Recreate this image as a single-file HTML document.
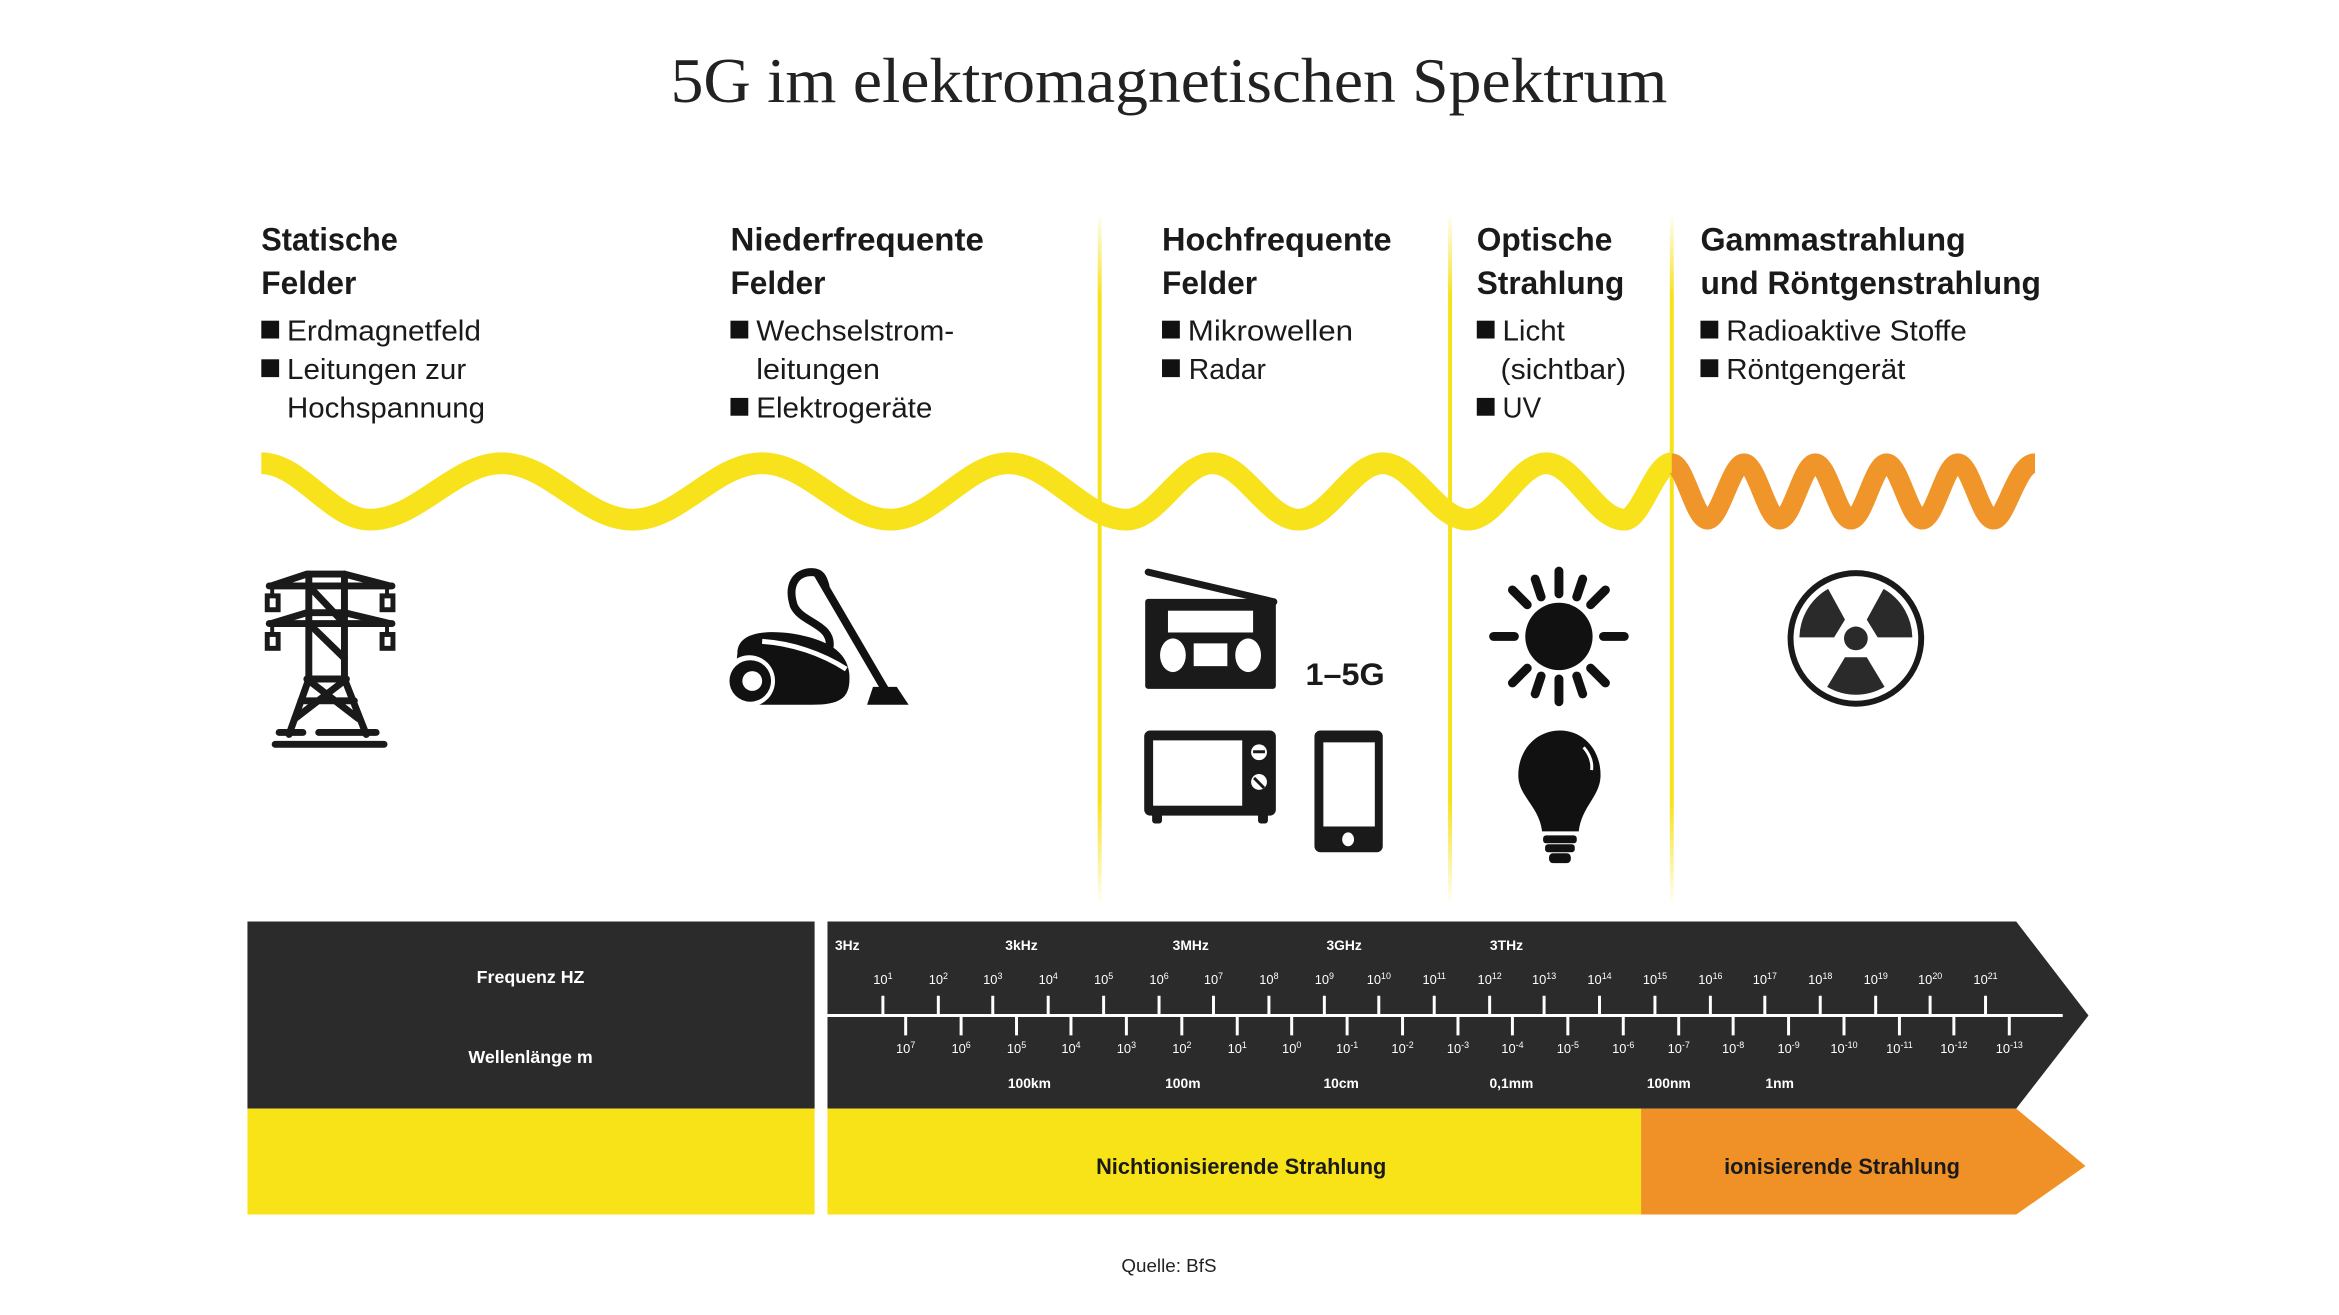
<!DOCTYPE html>
<html><head><meta charset="utf-8"><style>
html,body{margin:0;padding:0;background:#fff;}
svg{display:block;}
</style></head><body>
<svg width="2339" height="1315" viewBox="0 0 2339 1315" xmlns="http://www.w3.org/2000/svg">
<defs>
<linearGradient id="vg" x1="0" y1="0" x2="0" y2="1">
<stop offset="0" stop-color="#f6e21a" stop-opacity="0"/>
<stop offset="0.12" stop-color="#f6e21a" stop-opacity="1"/>
<stop offset="0.85" stop-color="#f6e21a" stop-opacity="1"/>
<stop offset="1" stop-color="#f6e21a" stop-opacity="0"/>
</linearGradient>
</defs>
<rect width="2339" height="1315" fill="#fff"/>
<g transform="scale(0.9898)">

<text x="1181" y="103" font-family="Liberation Serif, serif" font-size="64" fill="#222" text-anchor="middle" textLength="1007" lengthAdjust="spacingAndGlyphs">5G im elektromagnetischen Spektrum</text>

<rect x="1109" y="215" width="4" height="700" fill="url(#vg)"/>
<rect x="1463" y="215" width="4" height="700" fill="url(#vg)"/>
<rect x="1687" y="215" width="4" height="700" fill="url(#vg)"/>

<g font-family="Liberation Sans, sans-serif" font-weight="bold" font-size="33" fill="#1a1a1a">
<text x="264" y="253" textLength="138" lengthAdjust="spacingAndGlyphs">Statische</text>
<text x="264" y="297" textLength="96" lengthAdjust="spacingAndGlyphs">Felder</text>
<text x="738" y="253" textLength="256" lengthAdjust="spacingAndGlyphs">Niederfrequente</text>
<text x="738" y="297" textLength="96" lengthAdjust="spacingAndGlyphs">Felder</text>
<text x="1174" y="253" textLength="232" lengthAdjust="spacingAndGlyphs">Hochfrequente</text>
<text x="1174" y="297" textLength="96" lengthAdjust="spacingAndGlyphs">Felder</text>
<text x="1492" y="253" textLength="137" lengthAdjust="spacingAndGlyphs">Optische</text>
<text x="1492" y="297" textLength="149" lengthAdjust="spacingAndGlyphs">Strahlung</text>
<text x="1718" y="253" textLength="268" lengthAdjust="spacingAndGlyphs">Gammastrahlung</text>
<text x="1718" y="297" textLength="344" lengthAdjust="spacingAndGlyphs">und Röntgenstrahlung</text>
</g>

<g fill="#111">
<rect x="264" y="324" width="18" height="18"/><rect x="264" y="363" width="18" height="18"/>
<rect x="738" y="324" width="18" height="18"/><rect x="738" y="402" width="18" height="18"/>
<rect x="1174" y="324" width="18" height="18"/><rect x="1174" y="363" width="18" height="18"/>
<rect x="1492" y="324" width="18" height="18"/><rect x="1492" y="402" width="18" height="18"/>
<rect x="1718" y="324" width="18" height="18"/><rect x="1718" y="363" width="18" height="18"/>
</g>
<g font-family="Liberation Sans, sans-serif" font-size="29" fill="#1a1a1a">
<text x="290" y="344" textLength="196" lengthAdjust="spacingAndGlyphs">Erdmagnetfeld</text>
<text x="290" y="383" textLength="181" lengthAdjust="spacingAndGlyphs">Leitungen zur</text>
<text x="290" y="422" textLength="200" lengthAdjust="spacingAndGlyphs">Hochspannung</text>
<text x="764" y="344" textLength="200" lengthAdjust="spacingAndGlyphs">Wechselstrom-</text>
<text x="764" y="383" textLength="125" lengthAdjust="spacingAndGlyphs">leitungen</text>
<text x="764" y="422" textLength="178" lengthAdjust="spacingAndGlyphs">Elektrogeräte</text>
<text x="1200" y="344" textLength="167" lengthAdjust="spacingAndGlyphs">Mikrowellen</text>
<text x="1201" y="383" textLength="78" lengthAdjust="spacingAndGlyphs">Radar</text>
<text x="1518" y="344" textLength="63" lengthAdjust="spacingAndGlyphs">Licht</text>
<text x="1516" y="383" textLength="127" lengthAdjust="spacingAndGlyphs">(sichtbar)</text>
<text x="1518" y="422" textLength="39" lengthAdjust="spacingAndGlyphs">UV</text>
<text x="1744" y="344" textLength="243" lengthAdjust="spacingAndGlyphs">Radioaktive Stoffe</text>
<text x="1744" y="383" textLength="181" lengthAdjust="spacingAndGlyphs">Röntgengerät</text>
</g>

<path fill="none" stroke="#f7e21b" stroke-width="22" d="M264,468 C304,468 334,525 374,525 C422,525 459,468 507,468 C555,468 591,525 639,525 C687,525 722,468 770,468 C817,468 853,525 900,525 C943,525 976,468 1019,468 C1062,468 1095,525 1138,525 C1170,525 1193,468 1225,468 C1257,468 1280,525 1312,525 C1343,525 1366,468 1397,468 C1428,468 1452,525 1483,525 C1512,525 1533,468 1562,468 C1591,468 1612,525 1641,525 C1658,525 1672,468 1689,468"/>
<path fill="none" stroke="#f0952a" stroke-width="20" d="M1689,468 C1702,468 1712,525 1725,525 C1738,525 1749,468 1762,468 C1775,468 1785,525 1798,525 C1811,525 1821,468 1834,468 C1847,468 1857,525 1870,525 C1883,525 1893,468 1906,468 C1919,468 1929,525 1942,525 C1955,525 1965,468 1978,468 C1991,468 2001,525 2014,525 C2027,525 2037,468 2056,468"/>

<g stroke="#1a1a1a" stroke-width="7" fill="none" stroke-linecap="round">
<path d="M274,592 L310,580 L348,580 L394,592"/>
<path d="M272,592 L396,592"/>
<path d="M274,630 L310,619 L348,619 L394,630"/>
<path d="M272,630 L396,630"/>
<path d="M312,580 L312,686 L292,742"/>
<path d="M348,580 L348,686 L370,742"/>
<path d="M312,592 L348,630 M312,630 L348,665 M312,686 L348,686"/>
<path d="M310,686 L362,726 M350,686 L298,726 M304,708 L358,708"/>
<path d="M278,752 L388,752"/>
<path d="M282,740 L306,740 M322,740 L380,740"/>
<rect x="270" y="602" width="11" height="14" stroke-width="5"/>
<rect x="386" y="602" width="11" height="14" stroke-width="5"/>
<rect x="270" y="641" width="11" height="14" stroke-width="5"/>
<rect x="386" y="641" width="11" height="14" stroke-width="5"/>
<path d="M275,592 L275,602 M391,592 L391,602 M275,630 L275,641 M391,630 L391,641" stroke-width="4"/>
</g>

<g fill="#111">
<path d="M745,660 C745,640 770,636 800,640 C830,645 855,655 858,680 C860,705 850,712 820,712 L770,712 C750,712 740,700 745,660 Z"/>
<circle cx="757" cy="688" r="26" fill="#fff"/>
<circle cx="758" cy="688" r="21"/>
<circle cx="760" cy="688" r="10" fill="#fff"/>
<path d="M770,648 C800,650 830,660 855,676" stroke="#fff" stroke-width="5" fill="none"/>
<path d="M838,655 C842,630 810,630 802,612 C795,590 805,578 820,578 C830,578 832,585 834,592" stroke="#111" stroke-width="8" fill="none" stroke-linecap="round"/>
<path d="M826,580 L895,698" stroke="#111" stroke-width="8" stroke-linecap="round"/>
<path d="M882,694 L906,694 L918,712 L876,712 Z"/>
</g>

<g fill="#1a1a1a">
<path d="M1160,578 L1287,608" stroke="#1a1a1a" stroke-width="7" stroke-linecap="round"/>
<rect x="1157" y="605" width="132" height="91" rx="3"/>
<rect x="1180" y="617" width="86" height="22" fill="#fff"/>
<ellipse cx="1185" cy="662" rx="13" ry="17" fill="#fff"/>
<ellipse cx="1261" cy="662" rx="13" ry="17" fill="#fff"/>
<rect x="1206" y="650" width="34" height="23" fill="#fff"/>
</g>
<text x="1359" y="692" font-family="Liberation Sans, sans-serif" font-weight="bold" font-size="32" fill="#1a1a1a" text-anchor="middle" textLength="80" lengthAdjust="spacingAndGlyphs">1–5G</text>

<g fill="#1a1a1a">
<rect x="1156" y="738" width="133" height="86" rx="6"/>
<rect x="1165" y="748" width="90" height="66" fill="#fff"/>
<circle cx="1272" cy="760" r="8" fill="#fff"/>
<circle cx="1272" cy="790" r="8" fill="#fff"/>
<rect x="1266" y="758" width="12" height="3"/>
<path d="M1267,786 L1277,796" stroke="#1a1a1a" stroke-width="3"/>
<rect x="1164" y="820" width="10" height="12" rx="3"/>
<rect x="1271" y="820" width="10" height="12" rx="3"/>
</g>
<g fill="#1a1a1a">
<rect x="1328" y="738" width="69" height="123" rx="6"/>
<rect x="1337" y="750" width="52" height="85" fill="#fff"/>
<ellipse cx="1362" cy="848" rx="6" ry="7" fill="#fff"/>
</g>

<g stroke="#111" stroke-width="9" stroke-linecap="round">
<circle cx="1575" cy="643" r="34" fill="#111" stroke="none"/>
<path d="M1575,577 L1575,600 M1575,686 L1575,709 M1509,643 L1530,643 M1620,643 L1641,643 M1528,596 L1543,611 M1607,675 L1622,690 M1622,596 L1607,611 M1543,675 L1528,690 M1551,585 L1557,603 M1593,683 L1599,701 M1599,585 L1593,603 M1557,683 L1551,701"/>
</g>

<g fill="#111">
<path d="M1576,738 C1600,738 1618,758 1617,785 C1616,805 1598,815 1595,840 L1558,840 C1555,815 1535,805 1534,785 C1533,758 1552,738 1576,738 Z"/>
<rect x="1559" y="844" width="34" height="8" rx="3"/>
<rect x="1561" y="853" width="30" height="8" rx="3"/>
<rect x="1565" y="862" width="22" height="10" rx="4"/>
<path d="M1600,755 C1606,762 1609,770 1608,778" stroke="#fff" stroke-width="3" fill="none"/>
</g>

<g>
<circle cx="1875" cy="645" r="66" fill="none" stroke="#1a1a1a" stroke-width="6"/>
<path d="M1875,645 m-22,-1 L1818,644 A57,57 0 0 1 1847,595 L1864,626 Z" fill="#2a2a2a"/>
<path d="M1875,645 m22,-1 L1932,644 A57,57 0 0 0 1903,595 L1886,626 Z" fill="#2a2a2a"/>
<path d="M1864,664 L1846,694 A57,57 0 0 0 1904,694 L1886,664 Z" fill="#2a2a2a"/>
<circle cx="1875" cy="645" r="15" fill="#fff"/>
<circle cx="1875" cy="645" r="12" fill="#2a2a2a"/>
</g>

<rect x="250" y="931" width="573" height="189" fill="#2b2b2b"/>
<path d="M836,931 L2037,931 L2110,1026 L2037,1120 L836,1120 Z" fill="#2b2b2b"/>
<rect x="250" y="1120" width="573" height="107" fill="#f8e318"/>
<rect x="836" y="1120" width="822" height="107" fill="#f8e318"/>
<path d="M1658,1120 L2037,1120 L2107,1178 L2037,1227 L1658,1227 Z" fill="#ef9127"/>

<g font-family="Liberation Sans, sans-serif" fill="#fff" font-size="18" text-anchor="middle" font-weight="bold">
<text x="536" y="993">Frequenz HZ</text>
<text x="536" y="1074">Wellenlänge m</text>
</g>
<g font-family="Liberation Sans, sans-serif" fill="#1a1a1a" font-size="22" font-weight="bold" text-anchor="middle">
<text x="1254" y="1186">Nichtionisierende Strahlung</text>
<text x="1861" y="1186">ionisierende Strahlung</text>
</g>
<text x="1181" y="1285" font-family="Liberation Sans, sans-serif" font-size="19" fill="#222" text-anchor="middle">Quelle: BfS</text>

<g stroke="#fff" stroke-width="3">
<line x1="836" y1="1026" x2="2084" y2="1026"/>
<path d="M892,1006V1026 M948,1006V1026 M1003,1006V1026 M1059,1006V1026 M1115,1006V1026 M1171,1006V1026 M1226,1006V1026 M1282,1006V1026 M1338,1006V1026 M1393,1006V1026 M1449,1006V1026 M1505,1006V1026 M1560,1006V1026 M1616,1006V1026 M1672,1006V1026 M1728,1006V1026 M1783,1006V1026 M1839,1006V1026 M1895,1006V1026 M1950,1006V1026 M2006,1006V1026"/>
<path d="M915,1026V1046 M971,1026V1046 M1027,1026V1046 M1082,1026V1046 M1138,1026V1046 M1194,1026V1046 M1250,1026V1046 M1305,1026V1046 M1361,1026V1046 M1417,1026V1046 M1473,1026V1046 M1528,1026V1046 M1584,1026V1046 M1640,1026V1046 M1696,1026V1046 M1751,1026V1046 M1807,1026V1046 M1863,1026V1046 M1919,1026V1046 M1974,1026V1046 M2030,1026V1046"/>
</g>
<g font-family="Liberation Sans, sans-serif" fill="#fff" font-size="14" font-weight="bold" text-anchor="middle">
<text x="856" y="960">3Hz</text>
<text x="1032" y="960">3kHz</text>
<text x="1203" y="960">3MHz</text>
<text x="1358" y="960">3GHz</text>
<text x="1522" y="960">3THz</text>
<text x="1040" y="1099">100km</text>
<text x="1195" y="1099">100m</text>
<text x="1355" y="1099">10cm</text>
<text x="1527" y="1099">0,1mm</text>
<text x="1686" y="1099">100nm</text>
<text x="1798" y="1099">1nm</text>
</g>
<g font-family="Liberation Sans, sans-serif" fill="#fff" font-size="13" text-anchor="middle">
<text x="892" y="994">10<tspan font-size="9" dy="-5">1</tspan></text>
<text x="948" y="994">10<tspan font-size="9" dy="-5">2</tspan></text>
<text x="1003" y="994">10<tspan font-size="9" dy="-5">3</tspan></text>
<text x="1059" y="994">10<tspan font-size="9" dy="-5">4</tspan></text>
<text x="1115" y="994">10<tspan font-size="9" dy="-5">5</tspan></text>
<text x="1171" y="994">10<tspan font-size="9" dy="-5">6</tspan></text>
<text x="1226" y="994">10<tspan font-size="9" dy="-5">7</tspan></text>
<text x="1282" y="994">10<tspan font-size="9" dy="-5">8</tspan></text>
<text x="1338" y="994">10<tspan font-size="9" dy="-5">9</tspan></text>
<text x="1393" y="994">10<tspan font-size="9" dy="-5">10</tspan></text>
<text x="1449" y="994">10<tspan font-size="9" dy="-5">11</tspan></text>
<text x="1505" y="994">10<tspan font-size="9" dy="-5">12</tspan></text>
<text x="1560" y="994">10<tspan font-size="9" dy="-5">13</tspan></text>
<text x="1616" y="994">10<tspan font-size="9" dy="-5">14</tspan></text>
<text x="1672" y="994">10<tspan font-size="9" dy="-5">15</tspan></text>
<text x="1728" y="994">10<tspan font-size="9" dy="-5">16</tspan></text>
<text x="1783" y="994">10<tspan font-size="9" dy="-5">17</tspan></text>
<text x="1839" y="994">10<tspan font-size="9" dy="-5">18</tspan></text>
<text x="1895" y="994">10<tspan font-size="9" dy="-5">19</tspan></text>
<text x="1950" y="994">10<tspan font-size="9" dy="-5">20</tspan></text>
<text x="2006" y="994">10<tspan font-size="9" dy="-5">21</tspan></text>

<text x="915" y="1064">10<tspan font-size="9" dy="-5">7</tspan></text>
<text x="971" y="1064">10<tspan font-size="9" dy="-5">6</tspan></text>
<text x="1027" y="1064">10<tspan font-size="9" dy="-5">5</tspan></text>
<text x="1082" y="1064">10<tspan font-size="9" dy="-5">4</tspan></text>
<text x="1138" y="1064">10<tspan font-size="9" dy="-5">3</tspan></text>
<text x="1194" y="1064">10<tspan font-size="9" dy="-5">2</tspan></text>
<text x="1250" y="1064">10<tspan font-size="9" dy="-5">1</tspan></text>
<text x="1305" y="1064">10<tspan font-size="9" dy="-5">0</tspan></text>
<text x="1361" y="1064">10<tspan font-size="9" dy="-5">-1</tspan></text>
<text x="1417" y="1064">10<tspan font-size="9" dy="-5">-2</tspan></text>
<text x="1473" y="1064">10<tspan font-size="9" dy="-5">-3</tspan></text>
<text x="1528" y="1064">10<tspan font-size="9" dy="-5">-4</tspan></text>
<text x="1584" y="1064">10<tspan font-size="9" dy="-5">-5</tspan></text>
<text x="1640" y="1064">10<tspan font-size="9" dy="-5">-6</tspan></text>
<text x="1696" y="1064">10<tspan font-size="9" dy="-5">-7</tspan></text>
<text x="1751" y="1064">10<tspan font-size="9" dy="-5">-8</tspan></text>
<text x="1807" y="1064">10<tspan font-size="9" dy="-5">-9</tspan></text>
<text x="1863" y="1064">10<tspan font-size="9" dy="-5">-10</tspan></text>
<text x="1919" y="1064">10<tspan font-size="9" dy="-5">-11</tspan></text>
<text x="1974" y="1064">10<tspan font-size="9" dy="-5">-12</tspan></text>
<text x="2030" y="1064">10<tspan font-size="9" dy="-5">-13</tspan></text>
</g>
</g>
</svg>
</body></html>
